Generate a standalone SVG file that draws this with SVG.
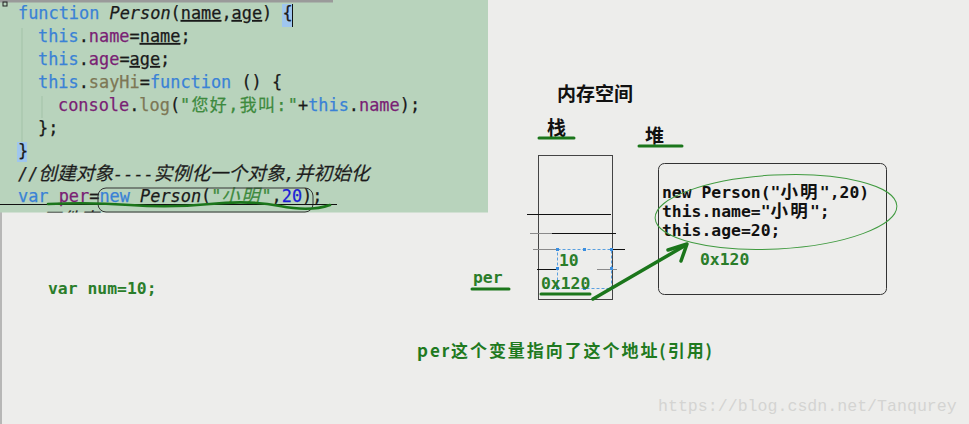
<svg xmlns="http://www.w3.org/2000/svg" width="969" height="424" viewBox="0 0 969 424">
<defs>
<style>
.code{font-family:"DejaVu Sans Mono","Noto Sans CJK SC",monospace;font-size:16.9px;fill:#1a1a1a;stroke-width:0.25}
.kw{fill:#3a82d6;stroke:#3a82d6}
.pr{fill:#7a1f74;stroke:#7a1f74}
.ol{fill:#7d7755;stroke:#7d7755}
.st{fill:#3d8a3d;stroke:#3d8a3d}
.nm{fill:#1c1cd6;stroke:#1c1cd6}
.it{font-style:italic}
.u{text-decoration:underline}
.dg{font-family:"DejaVu Sans Mono","Noto Sans CJK SC",monospace;font-size:16.4px;font-weight:bold}
.cj{font-size:17.5px;letter-spacing:2.2px}
.blk{fill:#111}
.grn{fill:#2a7d2a}
.cjk{font-family:"Noto Sans CJK SC",sans-serif;font-weight:bold}
.ul{stroke:#1b761b;stroke-width:3;stroke-linecap:round}
.sl{stroke:#111;stroke-width:1}
.sg{stroke:#8a8a8a;stroke-width:1}
</style>
<clipPath id="panelClip"><rect x="0" y="0" width="488" height="212.5"/></clipPath>
</defs>
<rect x="0" y="0" width="969" height="424" fill="#ededeb"/>
<line x1="1" y1="0" x2="1" y2="424" stroke="#a4a4a4" stroke-width="1.5"/>

<g id="code-panel">
<rect x="0" y="0" width="488" height="212.5" fill="#b8d3bc"/>
<rect x="0" y="0" width="333" height="2.5" fill="#9a9a9a"/>
<rect x="3" y="2" width="4" height="4" fill="none" stroke="#222" stroke-width="1"/>
<line x1="22" y1="28" x2="22" y2="150" stroke="#a3c2a8" stroke-width="1"/>
<line x1="42" y1="96" x2="42" y2="118" stroke="#a3c2a8" stroke-width="1"/>
<rect x="282" y="4" width="10" height="23" fill="#9fc6ee"/>
<line x1="292.5" y1="4" x2="292.5" y2="27" stroke="#111" stroke-width="1"/>
<rect x="17" y="142" width="10" height="20" fill="#9fc6ee"/>
<g stroke="#1a1a1a">
<text class="code" x="18" y="19"><tspan class="kw">function</tspan> <tspan class="it">Person</tspan>(<tspan class="u">name</tspan>,<tspan class="u">age</tspan>) {</text>
<text class="code" x="38" y="42"><tspan class="kw">this</tspan>.<tspan class="pr">name</tspan>=<tspan class="u">name</tspan>;</text>
<text class="code" x="38" y="65"><tspan class="kw">this</tspan>.<tspan class="pr">age</tspan>=<tspan class="u">age</tspan>;</text>
<text class="code" x="38" y="88"><tspan class="kw">this</tspan>.<tspan class="ol">sayHi</tspan>=<tspan class="kw">function</tspan> () {</text>
<text class="code" x="58" y="111"><tspan class="pr">console</tspan>.<tspan class="ol">log</tspan>(</text>
<text class="code st" x="180" y="111" textLength="118" lengthAdjust="spacing">"您好,我叫:"</text>
<text class="code" x="298" y="111">+<tspan class="kw">this</tspan>.<tspan class="pr">name</tspan>);</text>
<text class="code" x="38" y="134">};</text>
<text class="code" x="18" y="157">}</text>
<text class="code it" x="18" y="180" fill="#333" stroke="#333">//<tspan font-size="18.7">创建对象</tspan>----<tspan font-size="18.7">实例化一个对象</tspan>,<tspan font-size="18.7">并初始化</tspan></text>
<text class="code" x="18" y="202"><tspan class="kw">var</tspan> <tspan class="pr u">per</tspan>=<tspan class="kw">new</tspan> <tspan class="it">Person</tspan>(<tspan class="st it">"<tspan font-size="18" letter-spacing="2">小明</tspan>"</tspan>,<tspan class="nm">20</tspan>);</text>
<g clip-path="url(#panelClip)">
<text class="code it" x="22" y="226" fill="#333" stroke="#333">//<tspan font-size="18.7">四件事</tspan></text>
</g>
</g>
<rect x="98" y="188" width="215" height="24" rx="8" fill="none" stroke="#333" stroke-width="1"/>
<line x1="0" y1="204.5" x2="337" y2="204.5" stroke="#111" stroke-width="1.2"/>
<path d="M48 204 Q90 202 130 205 T210 204 T280 206 T330 205" fill="none" stroke="#1b761b" stroke-width="2.6" stroke-linecap="round"/>
</g>

<g id="title">
<text class="cjk blk" x="557" y="101" font-size="19" textLength="76" lengthAdjust="spacing">内存空间</text>
</g>

<g id="stack">
<text class="cjk blk" x="547" y="135" font-size="19">栈</text>
<line class="ul" x1="539" y1="138" x2="574" y2="138"/>
<rect x="538.5" y="155.5" width="74" height="144" fill="none" stroke="#444" stroke-width="1"/>
<line class="sl" x1="527" y1="214.5" x2="611" y2="214.5"/>
<line class="sg" x1="530" y1="233.5" x2="552" y2="233.5"/>
<line class="sl" x1="552" y1="233.5" x2="616" y2="233.5"/>
<line class="sg" x1="533" y1="249.5" x2="557" y2="249.5"/>
<line class="sl" x1="610" y1="249.5" x2="625" y2="249.5"/>
<line class="sl" x1="537" y1="269.5" x2="557" y2="269.5"/>
<line class="sg" x1="597" y1="269.5" x2="617" y2="269.5"/>
<rect x="557.5" y="249.5" width="54" height="39" fill="none" stroke="#5aa0e0" stroke-width="1" stroke-dasharray="3,2"/>
<g fill="#3a8ee0">
<rect x="556" y="248" width="3" height="3"/><rect x="583" y="248" width="3" height="3"/><rect x="610" y="248" width="3" height="3"/>
<rect x="556" y="267" width="3" height="3"/><rect x="610" y="267" width="3" height="3"/>
<rect x="556" y="287" width="3" height="3"/><rect x="583" y="287" width="3" height="3"/><rect x="610" y="287" width="3" height="3"/>
</g>
<text class="dg grn" x="559" y="266">10</text>
<text class="dg grn" x="541" y="289">0x120</text>
<line class="ul" x1="541" y1="294" x2="590" y2="294"/>
</g>

<g id="per-label">
<text class="dg grn" x="473" y="283">per</text>
<line class="ul" x1="472" y1="289" x2="509" y2="289"/>
</g>

<g id="heap">
<text class="cjk blk" x="645" y="143" font-size="19">堆</text>
<line class="ul" x1="639" y1="146" x2="682" y2="146"/>
<rect x="658.5" y="163.5" width="228" height="131" rx="6" fill="none" stroke="#333" stroke-width="1"/>
<text class="dg blk" x="662" y="198">new Person("<tspan class="cj">小明</tspan>",20)</text>
<text class="dg blk" x="662" y="217">this.name="<tspan class="cj">小明</tspan>";</text>
<text class="dg blk" x="662" y="236">this.age=20;</text>
<ellipse cx="776" cy="212" rx="121" ry="37" transform="rotate(-3 776 212)" fill="none" stroke="#3f9a3f" stroke-width="1"/>
<text class="dg grn" x="700" y="265">0x120</text>
</g>

<g id="connectors">
<path d="M593 299 L686 245" fill="none" stroke="#1b761b" stroke-width="3.5" stroke-linecap="round"/>
<path d="M668 250 L687 244 L681 261" fill="none" stroke="#1b761b" stroke-width="3.5" stroke-linecap="round" stroke-linejoin="round"/>
</g>

<g id="note">
<text class="cjk" x="417" y="357" font-size="17" fill="#1f7a1f" textLength="295" lengthAdjust="spacing">per这个变量指向了这个地址(引用)</text>
</g>

<g id="var-num">
<text class="dg grn" x="48" y="294">var num=10;</text>
</g>

<g id="watermark">
<text x="658" y="411" font-family="Liberation Mono,monospace" font-size="16.6" fill="#d4d4d2">https://blog.csdn.net/Tanqurey</text>
</g>
</svg>
